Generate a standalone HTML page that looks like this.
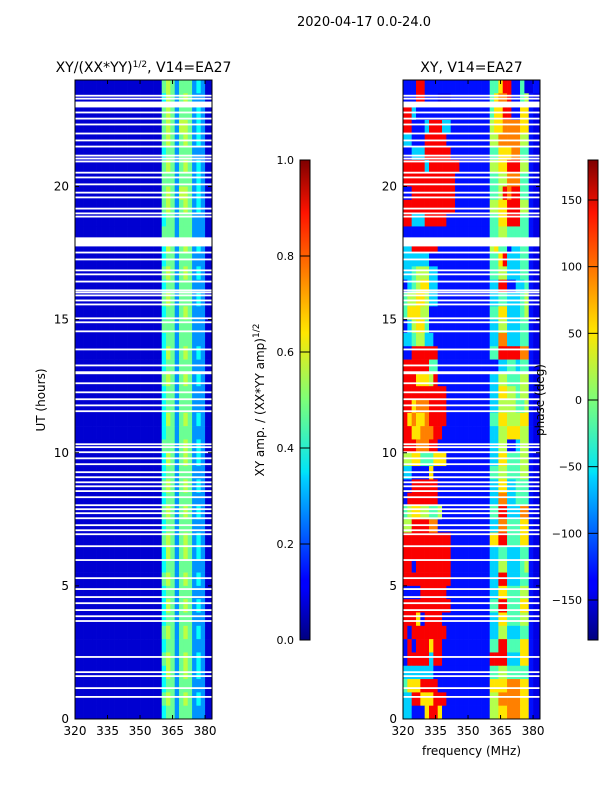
<!DOCTYPE html>
<html><head><meta charset="utf-8">
<style>
html,body{margin:0;padding:0;background:#fff;}
svg text{font-family:"DejaVu Sans","Liberation Sans",sans-serif;fill:#000;}
</style></head>
<body>
<svg id="fig" width="600" height="800" viewBox="0 0 600 800" xmlns="http://www.w3.org/2000/svg">
<defs>
<linearGradient id="jet" x1="0" y1="1" x2="0" y2="0">
<stop offset="0" stop-color="#00007f"/><stop offset="0.11" stop-color="#0000ff"/><stop offset="0.125" stop-color="#0000ff"/>
<stop offset="0.34" stop-color="#00d4ff"/><stop offset="0.35" stop-color="#00e4f8"/><stop offset="0.5" stop-color="#7cff79"/>
<stop offset="0.64" stop-color="#ffe600"/><stop offset="0.66" stop-color="#ffd700"/><stop offset="0.89" stop-color="#ff1300"/>
<stop offset="1" stop-color="#7f0000"/>
</linearGradient>
</defs>
<text x="364" y="26" font-size="13" text-anchor="middle">2020-04-17 0.0-24.0</text>
<g id="g1"></g><g id="g2"></g><g id="cb"></g>
</svg>
<script>
// ---- data ----
const freqMin = 320, freqMax = 383.2, chanWidth = 2; // MHz, 32 channels
const utMin = 0, utMax = 24, rowHours = 0.5;
// digit -> colour-scale value lookups
const ampLevels = [0.08,0.15,0.27,0.38,0.48,0.56,0.62,0.7,0.8,0.95];
const phaseLevels = [0.02,0.1,0.14,0.33,0.45,0.55,0.65,0.75,0.88,0.97];
// rows listed top-down: UT 24 -> 0 (each 0.5 h). 32 chars = channels 320..384 MHz
const ampRows = [
"00000000000000000000454244423200","00000000000000000000354245422200","00000000000000000000454244423200","00000000000000000000454255423200",
"00000000000000000000454245423200","00000000000000000000344244422200","00000000000000000000454245423200","00000000000000000000444244423200",
"00000000000000000000454255423200","00000000000000000000454245423200","00000000000000000000344244422200","00000000000000000000444244422200",
"00000000000000000000354245423200","00000000000000000000344244422200","00000000000000000000454245423200","00000000000000000000344244422200",
"00000000000000000000454244423200","00000000000000000000344245422200","00000000000000000000444244422200","00000000000000000000344244422200",
"00000000000000000000354245423200","00000000000000000000344244422200","00000000000000000000454245423200","00000000000000000000344244422200",
"00000000000000000000344244422200","00000000000000000000354245423200","00000000000000000000344244422200","00000000000000000000444245423200",
"00000000000000000000354245423200","00000000000000000000344244422200","00000000000000000000454245423200","00000000000000000000344244422200",
"00000000000000000000454245423200","00000000000000000000344244422200","00000000000000000000454245423200","00000000000000000000354245423200",
"00000000000000000000344244422200","00000000000000000000454245423200","00000000000000000000344244422200","00000000000000000000354245423200",
"00000000000000000000344244422200","00000000000000000000454245423200","00000000000000000000344244422200","00000000000000000000454245423200",
"00000000000000000000354245423200","00000000000000000000344244422200","00000000000000000000454245423200","00000000000000000000344244422200"
];
const phaseRows = [
"22288222222222222222446882241122","22288222111222222222467782245211","88322222222222222222466882266211","88222388833222222222566777766211",
"33222888882222222222557777755211","22333888888222222222446667744211","88888388888882222222556688855211","88888888888822222222445577744211",
"22888888888822222222445878844211","88888888888822222222556688855211","88333888882222222222446688844211","22222222222222222222445544444211",
"33888888222222222222564423344211","33333322222222222222446833344211","33455533222222222222445533344211","23456633222222222222338822334211",
"45566533222222222222334433345211","46665522222222222222446633345211","23566422222222222222335533344211","33455332222222222222337733344211",
"22888888222222222222448888877211","88888844222222222222223344344211","88866658222222222222335544455211","88888888882222222222336655455211",
"88677788882222222222335555445211","86766788882222222222446655566211","88667778822222222222335566655211","88877788222222222222335522355211",
"55664446662222222222336644455211","33222262222222222222445544455211","22888888222222222222336633444211","28888888222222222222337733444211",
"45665544522222222222448833377211","55888877222222222222337744466211","88888888888222222222668844466211","88888888888222222222334433344211",
"88288888888222222222335533345211","88888888888222222222338833344211","22228888882222222222336644455211","88888888888222222222448844466211",
"88862888822222222222336644455211","82888888882222222222335533344211","28288868822222222222448844466211","28888838822222222222888833366211",
"33333332222222222222445544444211","46668888222222222222666677766211","33886668882222222222557777766211","33222688622222222222556677766211"
];
// flagged (blank) times, hours
const flagHours = [23.41,23.30,22.78,22.55,22.33,21.99,21.73,21.50,21.16,21.05,20.94,20.52,20.34,20.08,19.77,19.59,19.17,18.99,18.87,
17.52,17.26,16.85,16.70,16.43,16.10,16.02,15.91,15.72,15.57,15.05,14.90,14.56,13.88,13.28,12.61,12.27,12.01,11.78,11.56,
10.32,10.21,10.02,9.79,9.57,9.27,9.08,8.89,8.74,8.56,8.33,8.03,7.88,7.73,7.54,7.28,7.09,6.94,6.49,5.97,5.29,4.88,4.58,4.35,
4.09,3.86,3.68,2.33,1.76,1.61,1.16,0.83];
const flagRanges = [[22.97,23.19],[17.75,18.09],[12.95,13.06]];
const freqTicks = [320,335,350,365,380];
const utTicks = [0,5,10,15,20];
const ampTicks = [0.0,0.2,0.4,0.6,0.8,1.0];
const phaseTicks = [-150,-100,-50,0,50,100,150];

// ---- helpers ----
const NS="http://www.w3.org/2000/svg";
function mk(tag, attrs, parent){const e=document.createElementNS(NS,tag);for(const k in attrs)e.setAttribute(k,attrs[k]);parent.appendChild(e);return e;}
function jet(v){v=Math.max(0,Math.min(1,v));
 const r=Math.max(0,Math.min(1,1.5-Math.abs(4*v-3))),g=Math.max(0,Math.min(1,1.5-Math.abs(4*v-2))),b=Math.max(0,Math.min(1,1.5-Math.abs(4*v-1)));
 return `rgb(${Math.round(r*255)},${Math.round(g*255)},${Math.round(b*255)})`;}
const plotTop=80, plotBot=719, plotW=137;
function yOf(ut){return plotBot-(ut-utMin)/(utMax-utMin)*(plotBot-plotTop);}

function panel(gid, x0, rows, levels, title, yLabel, xLabel){
 const g=document.getElementById(gid);
 const xOf=f=>x0+(f-freqMin)/(freqMax-freqMin)*plotW;
 const cells=mk('g',{},g);
 
 
 rows.forEach((row,i)=>{
  const ut1=utMax-i*rowHours, ut0=ut1-rowHours;
  for(let c=0;c<row.length;c++){
   const f0=freqMin+c*chanWidth, f1=Math.min(f0+chanWidth,freqMax);
   if(f0>=freqMax)break;
   const v=levels[parseInt(row[c])];
   const r=mk('rect',{x:xOf(f0),y:yOf(ut1),width:xOf(f1)-xOf(f0)+0.3,height:yOf(ut0)-yOf(ut1)+0.3,fill:jet(v)},cells);
   
   
  }
 });
 flagHours.forEach(h=>{
  const r=mk('rect',{x:x0,y:yOf(h)-0.9,width:plotW,height:1.8,fill:'#fff'},g);
  
  
 });
 flagRanges.forEach(([a,b])=>{
  const r=mk('rect',{x:x0,y:yOf(b),width:plotW,height:yOf(a)-yOf(b),fill:'#fff'},g);
  
  
 });
 const fr=mk('rect',{x:x0,y:plotTop,width:plotW,height:plotBot-plotTop,fill:'none',stroke:'#000','stroke-width':1},g);
 
 
 freqTicks.forEach(f=>{
  const x=xOf(f);
  mk('line',{x1:x,x2:x,y1:plotBot,y2:plotBot-4,stroke:'#000'},g);
  mk('line',{x1:x,x2:x,y1:plotTop,y2:plotTop+4,stroke:'#000'},g);
  const t=mk('text',{x:x,y:plotBot+16,'font-size':12,'text-anchor':'middle'},g);t.textContent=f;
  
  
 });
 utTicks.forEach(u=>{
  const y=yOf(u);
  mk('line',{x1:x0,x2:x0+4,y1:y,y2:y,stroke:'#000'},g);
  mk('line',{x1:x0+plotW,x2:x0+plotW-4,y1:y,y2:y,stroke:'#000'},g);
  const t=mk('text',{x:x0-6,y:y+4,'font-size':12,'text-anchor':'end'},g);t.textContent=u;
  
  
 });
 const tt=mk('text',{x:x0+plotW/2,y:72,'font-size':14,'text-anchor':'middle'},g);tt.innerHTML=title;
 
 
 if(yLabel){const t=mk('text',{x:45,y:400,'font-size':12,'text-anchor':'middle',transform:'rotate(-90 45 400)'},g);t.textContent=yLabel;
  
  }
 if(xLabel){const t=mk('text',{x:x0+plotW/2,y:755,'font-size':12,'text-anchor':'middle'},g);t.textContent=xLabel;
  
  }
}
panel('g1',75,ampRows,ampLevels,'XY/(XX*YY)<tspan dy="-5" font-size="9">1/2</tspan><tspan dy="5">, V14=EA27</tspan>','UT (hours)',null);
panel('g2',403,phaseRows,phaseLevels,'XY, V14=EA27',null,'frequency (MHz)');

function colorbar(x, lo, hi, ticks, fmt, label, lx, name){
 const g=document.getElementById('cb');
 const top=160,bot=640,w=10;
 const r=mk('rect',{x:x,y:top,width:w,height:bot-top,fill:'url(#jet)',stroke:'#000','stroke-width':1},g);
 
 
 ticks.forEach(v=>{
  const y=bot-(v-lo)/(hi-lo)*(bot-top);
  mk('line',{x1:x,x2:x+w,y1:y,y2:y,stroke:'#000'},g);
  const t=mk('text',{x:x-6,y:y+4,'font-size':11,'text-anchor':'end'},g);t.textContent=fmt(v);
  
  
 });
 const t=mk('text',{x:lx,y:400,'font-size':12,'text-anchor':'middle',transform:`rotate(-90 ${lx} 400)`},g);t.innerHTML=label;
 
 
}
colorbar(300,0,1,ampTicks,v=>v.toFixed(1),'XY amp. / (XX*YY amp)<tspan dy="-5" font-size="9">1/2</tspan>',264,'amplitude-colorbar');
colorbar(588,-180,180,phaseTicks,v=>v<0?'\u2212'+(-v):String(v),'phase (deg)',544,'phase-colorbar');
</script>
</body></html>
